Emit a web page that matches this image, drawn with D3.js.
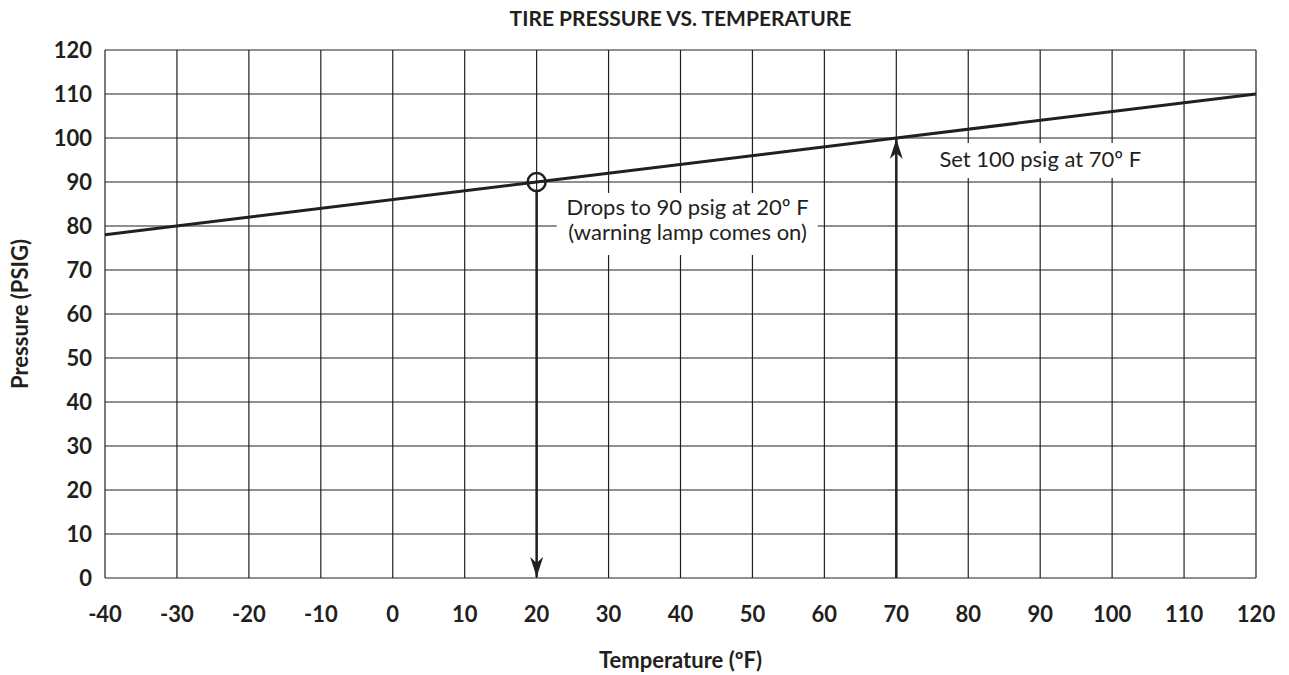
<!DOCTYPE html>
<html>
<head>
<meta charset="utf-8">
<script src="https://cdn.jsdelivr.net/npm/d3@7"></script>
<style>
  body { margin: 0; background: #fff; }
  text { font-family: Lato, "Open Sans", sans-serif; fill: #231f20; }
</style>
</head>
<body>
<svg id="chart"></svg>
<script>
const temps = [-40, 20, 70, 120];
const pressures = [78, 90, 100, 110];
const xTicks = d3.range(-40, 121, 10);
const yTicks = d3.range(0, 121, 10);
const notes = [
    {x: 20, y: 90, lines: ["Drops to 90 psig at 20º F", "(warning lamp comes on)"]},
    {x: 70, y: 100, lines: ["Set 100 psig at 70º F"]}
];

const width = 1289, height = 675;
const margin = {top: 50, right: 33, bottom: 97, left: 105};
const INK = "#231f20";

const svg = d3.select("#chart").attr("width", width).attr("height", height);

const x = d3.scaleLinear().domain([-40, 120]).range([margin.left, width - margin.right]);
const y = d3.scaleLinear().domain([0, 120]).range([height - margin.bottom, margin.top]);

svg.append("defs").append("marker")
    .attr("id", "arrow")
    .attr("viewBox", "0 0 20 13")
    .attr("refX", 20).attr("refY", 6.5)
    .attr("markerWidth", 20).attr("markerHeight", 13)
    .attr("markerUnits", "userSpaceOnUse")
    .attr("orient", "auto")
    .append("path")
    .attr("d", "M0,0 L20,6.5 L0,13 L6,6.5 Z")
    .attr("fill", INK);

// grid
const grid = svg.append("g").attr("stroke", INK).attr("stroke-width", 1.2);
grid.selectAll(".vx").data(xTicks).enter().append("line")
    .attr("x1", d => x(d)).attr("x2", d => x(d))
    .attr("y1", y(0)).attr("y2", y(120));
grid.selectAll(".hy").data(yTicks).enter().append("line")
    .attr("y1", d => y(d)).attr("y2", d => y(d))
    .attr("x1", x(-40)).attr("x2", x(120));

// tick labels
svg.append("g").selectAll("text").data(xTicks).enter().append("text")
    .attr("x", d => x(d)).attr("y", y(0) + 44)
    .attr("text-anchor", "middle")
    .attr("font-size", 22).attr("font-weight", "bold")
    .text(d => d);
svg.append("g").selectAll("text").data(yTicks).enter().append("text")
    .attr("x", margin.left - 13).attr("y", d => y(d) + 8)
    .attr("text-anchor", "end")
    .attr("font-size", 22).attr("font-weight", "bold")
    .text(d => d);

// titles
svg.append("text").attr("x", (x(-40) + x(120)) / 2).attr("y", 26)
    .attr("text-anchor", "middle").attr("font-size", 21).attr("font-weight", "bold")
    .text("TIRE PRESSURE VS. TEMPERATURE");
svg.append("text").attr("x", (x(-40) + x(120)) / 2).attr("y", 668)
    .attr("text-anchor", "middle").attr("font-size", 22).attr("font-weight", "bold")
    .text("Temperature (ºF)");
svg.append("text")
    .attr("transform", `translate(28, ${(y(0) + y(120)) / 2}) rotate(-90)`)
    .attr("text-anchor", "middle").attr("font-size", 22).attr("font-weight", "bold")
    .text("Pressure (PSIG)");

// pressure line
const pts = temps.map((t, i) => [t, pressures[i]]);
svg.append("path")
    .datum(pts)
    .attr("fill", "none").attr("stroke", INK).attr("stroke-width", 3)
    .attr("d", d3.line().x(d => x(d[0])).y(d => y(d[1])));

// note 1: drop at 20F
const n1 = notes[0];
svg.append("line")
    .attr("x1", x(n1.x)).attr("x2", x(n1.x))
    .attr("y1", y(n1.y) + 9).attr("y2", y(0) - 1)
    .attr("stroke", INK).attr("stroke-width", 2.5)
    .attr("marker-end", "url(#arrow)");
svg.append("circle")
    .attr("cx", x(n1.x)).attr("cy", y(n1.y)).attr("r", 9)
    .attr("fill", "none").attr("stroke", INK).attr("stroke-width", 2.5);
svg.append("rect")
    .attr("x", x(n1.x) + 20).attr("y", y(n1.y) + 11)
    .attr("width", 261).attr("height", 62).attr("fill", "#fff");
const t1 = svg.append("text")
    .attr("x", x(n1.x) + 151).attr("y", y(n1.y) + 33)
    .attr("text-anchor", "middle").attr("font-size", 22);
n1.lines.forEach((s, i) => t1.append("tspan")
    .attr("x", x(n1.x) + 151).attr("dy", i ? 25 : 0).text(s));

// note 2: set at 70F
const n2 = notes[1];
svg.append("line")
    .attr("x1", x(n2.x)).attr("x2", x(n2.x))
    .attr("y1", y(0)).attr("y2", y(n2.y) + 1)
    .attr("stroke", INK).attr("stroke-width", 2.5)
    .attr("marker-end", "url(#arrow)");
svg.append("rect")
    .attr("x", x(n2.x) + 28).attr("y", y(n2.y) + 5)
    .attr("width", 226).attr("height", 35).attr("fill", "#fff");
svg.append("text")
    .attr("x", x(n2.x) + 144).attr("y", y(n2.y) + 29)
    .attr("text-anchor", "middle").attr("font-size", 22)
    .text(n2.lines[0]);
</script>
</body>
</html>
